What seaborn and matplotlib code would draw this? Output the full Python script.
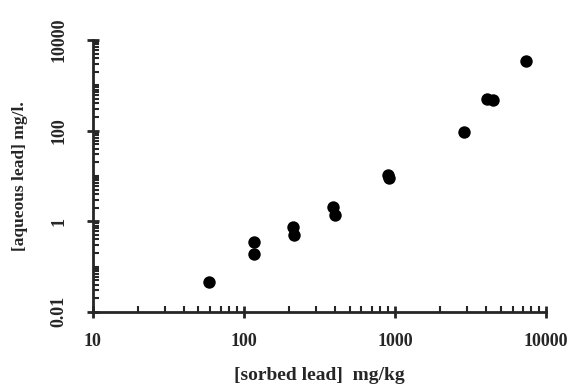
import pandas as pd
import matplotlib
matplotlib.use("Agg")
import matplotlib.pyplot as plt
import matplotlib.ticker as mticker
import seaborn as sns

# values
sorbed_lead = [59, 117, 117, 210, 215, 390, 400, 900, 910, 2865, 4045, 4435, 7345]
aqueous_lead = [0.046, 0.34, 0.19, 0.76, 0.49, 2.1, 1.38, 10.5, 9.0, 95, 508, 475, 3500]
x_ticks = [10, 100, 1000, 10000]
y_ticks = [0.01, 1, 100, 10000]
y_tick_labels = ["0.01", "1", "100", "10000"]

df = pd.DataFrame({"sorbed": sorbed_lead, "aqueous": aqueous_lead})

sns.set_style("ticks")
plt.rcParams["font.family"] = ["Liberation Serif", "DejaVu Serif"]
plt.rcParams["font.weight"] = "bold"

fig = plt.figure(figsize=(5.73, 3.87), dpi=100)
ax = fig.add_axes([0.162, 0.194, 0.791, 0.703])

sns.scatterplot(data=df, x="sorbed", y="aqueous", color="black", s=80,
                edgecolor="black", linewidth=0, ax=ax, zorder=3)

ax.set_xscale("log")
ax.set_yscale("log")
ax.set_xlim(10, 10000)
ax.set_ylim(0.01, 10000)

ax.xaxis.set_major_locator(mticker.FixedLocator(x_ticks))
ax.xaxis.set_major_formatter(mticker.FixedFormatter([str(v) for v in x_ticks]))
ax.xaxis.set_minor_locator(mticker.LogLocator(base=10, subs=range(2, 10)))
ax.xaxis.set_minor_formatter(mticker.NullFormatter())

ax.yaxis.set_major_locator(mticker.FixedLocator(y_ticks))
ax.yaxis.set_major_formatter(mticker.FixedFormatter(y_tick_labels))
ax.yaxis.set_minor_locator(mticker.LogLocator(base=10, subs=range(1, 10), numticks=20))
ax.yaxis.set_minor_formatter(mticker.NullFormatter())

sns.despine(ax=ax)
for side in ["left", "bottom"]:
    ax.spines[side].set_linewidth(2)

ax.tick_params(axis="both", which="major", direction="inout", length=9, width=2,
               labelsize=13)
ax.tick_params(axis="x", which="major", pad=11)
ax.tick_params(axis="y", which="major", pad=14)
ax.tick_params(axis="both", which="minor", direction="in", length=4, width=1.5)
plt.setp(ax.get_yticklabels(), rotation=90, va="center")

ax.set_xlabel("[sorbed lead]  mg/kg", fontsize=14, fontweight="bold", labelpad=12)
ax.set_ylabel("[aqueous lead] mg/l.", fontsize=12.5, fontweight="bold", labelpad=16)

fig.savefig("out.png", dpi=100)
